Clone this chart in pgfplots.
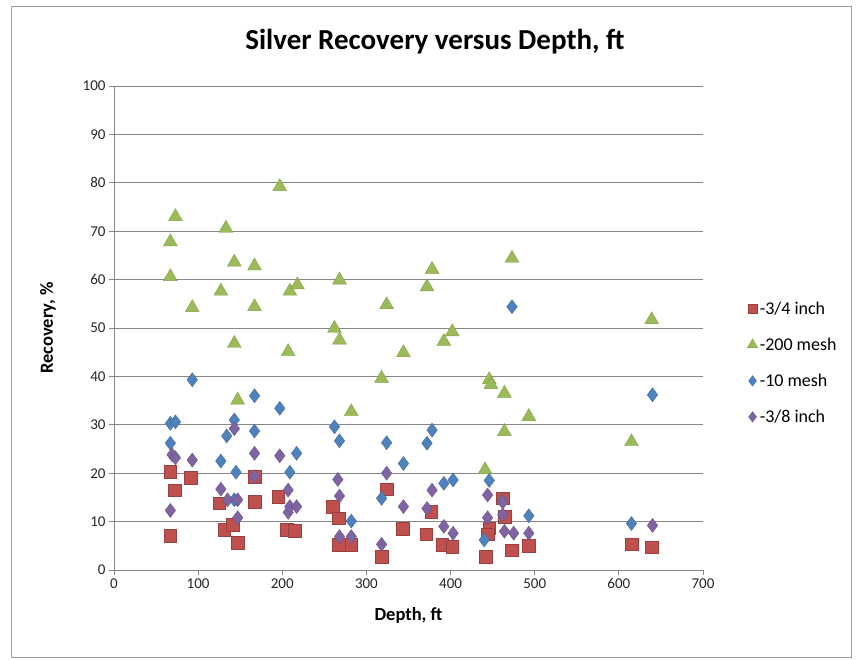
\documentclass[border=0pt]{standalone}
\usepackage{pgfplots}
\pgfplotsset{compat=1.18}
\usepackage{fontspec}
\setmainfont{Carlito}
\definecolor{cRed}{HTML}{C0504D}
\definecolor{cGreen}{HTML}{9BBB59}
\definecolor{cBlue}{HTML}{4F81BD}
\definecolor{cPurple}{HTML}{8064A2}
\definecolor{gridc}{HTML}{868686}
\begin{document}
\begin{tikzpicture}[x=1pt,y=1pt]
\useasboundingbox (0,0) rectangle (862,660);
\draw[draw=gridc!80, line width=0.8pt] (11,3) rectangle (851,654);
\node[font=\fontsize{29}{34}\selectfont\bfseries] at (435,618) {Silver Recovery versus Depth, ft};
\begin{axis}[
  at={(114pt,90pt)}, anchor=south west,
  scale only axis, width=589pt, height=484pt,
  xmin=0, xmax=700, ymin=0, ymax=100,
  xtick={0,100,...,700}, ytick={0,10,...,100},
  ymajorgrids, major grid style={draw=gridc, line width=0.9pt},
  axis x line*=bottom, axis y line*=left,
  axis line style={draw=gridc, line width=0.9pt, -},
  tick style={draw=gridc, line width=0.9pt}, tick align=outside, major tick length=5pt,
  ticklabel style={font=\fontsize{15}{17}\selectfont, text=black!85},
  /pgf/number format/assume math mode=true,
  xlabel={\bfseries Depth, ft}, ylabel={\bfseries Recovery, \%},
  label style={font=\fontsize{18.5}{22}\selectfont},
  xlabel style={at={(axis description cs:0.5,0)}, anchor=center, yshift=-45pt},
  ylabel style={at={(axis description cs:0,0.5)}, anchor=center, yshift=66pt},
  legend style={at={(1.075,0.428)}, anchor=west, draw=none, fill=none,
    font=\fontsize{18}{21}\selectfont, row sep=18pt, inner sep=0pt},
  legend cell align=left,
  legend image code/.code={\draw[#1, scale=0.75] plot coordinates {(0.2cm,0cm)};},
]
\addplot[only marks, mark=square*, mark size=6.3pt, mark options={fill=cRed, draw=cRed!80!black, line width=0.4pt}] coordinates {
(67,20.3) (67,7.1) (72,16.5) (91,19.1) (125,13.8) (131,8.3) (141,9.3) (147,5.6)
(167,14.1) (167,19.3) (195,15.2) (205,8.3) (215,8.1) (260,13.1) (267,10.7) (267,5.2)
(282,5.2) (318,2.8) (324,16.7) (343,8.5) (371,7.4) (377,12.0) (390,5.2) (402,4.8)
(442,2.8) (446,8.6) (444,7.4) (462,14.8) (464,11.0) (473,4.1) (493,5.0) (615,5.3) (639,4.7)
};
\addlegendentry{-3/4 inch}
\addplot[only marks, mark=triangle*, mark size=8pt, mark options={fill=cGreen, draw=cGreen!85!black, line width=0.4pt}] coordinates {
(67,67.8) (67,60.6) (73,73.0) (93,54.2) (127,57.6) (133,70.6) (143,63.6) (143,46.8)
(147,35.1) (167,62.8) (167,54.4) (197,79.2) (207,45.1) (209,57.6) (218,58.9) (262,49.9)
(268,59.9) (268,47.5) (282,32.7) (318,39.6) (324,54.8) (344,44.9) (372,58.5) (378,62.1)
(392,47.2) (402,49.2) (441,20.7) (446,39.3) (448,38.3) (464,36.5) (464,28.6) (473,64.4)
(493,31.7) (615,26.5) (639,51.7)
};
\addlegendentry{-200 mesh}
\addplot[only marks, mark=diamond*, mark size=7pt, mark options={fill=cBlue, draw=cBlue!85!black, line width=0.4pt}] coordinates {
(67,30.3) (73,30.6) (67,26.2) (93,39.3) (127,22.5) (134,27.7) (143,31.0) (145,20.2)
(143,14.5) (167,36.0) (167,28.7) (197,33.4) (209,20.2) (217,24.1) (262,29.6) (268,26.7)
(282,10.1) (318,14.8) (324,26.3) (344,22.0) (372,26.2) (378,28.9) (392,17.9) (403,18.6)
(440,6.2) (446,18.5) (462,14.2) (473,54.4) (493,11.2) (615,9.6) (640,36.2)
};
\addlegendentry{-10 mesh}
\addplot[only marks, mark=diamond*, mark size=7pt, mark options={fill=cPurple, draw=cPurple!85!black, line width=0.4pt}] coordinates {
(67,12.3) (69,23.8) (73,23.2) (93,22.7) (127,16.7) (135,14.5) (143,29.2) (147,14.5)
(147,10.8) (167,24.1) (167,19.3) (197,23.6) (207,16.5) (207,11.9) (209,13.1) (217,13.1)
(266,18.7) (268,15.3) (268,6.9) (282,6.9) (318,5.3) (324,20.0) (344,13.1) (372,12.7)
(378,16.5) (392,9.0) (403,7.6) (444,15.5) (444,10.8) (462,14.0) (462,11.4) (464,8.0)
(475,7.6) (493,7.6) (640,9.2)
};
\addlegendentry{-3/8 inch}
\end{axis}
\end{tikzpicture}
\end{document}
